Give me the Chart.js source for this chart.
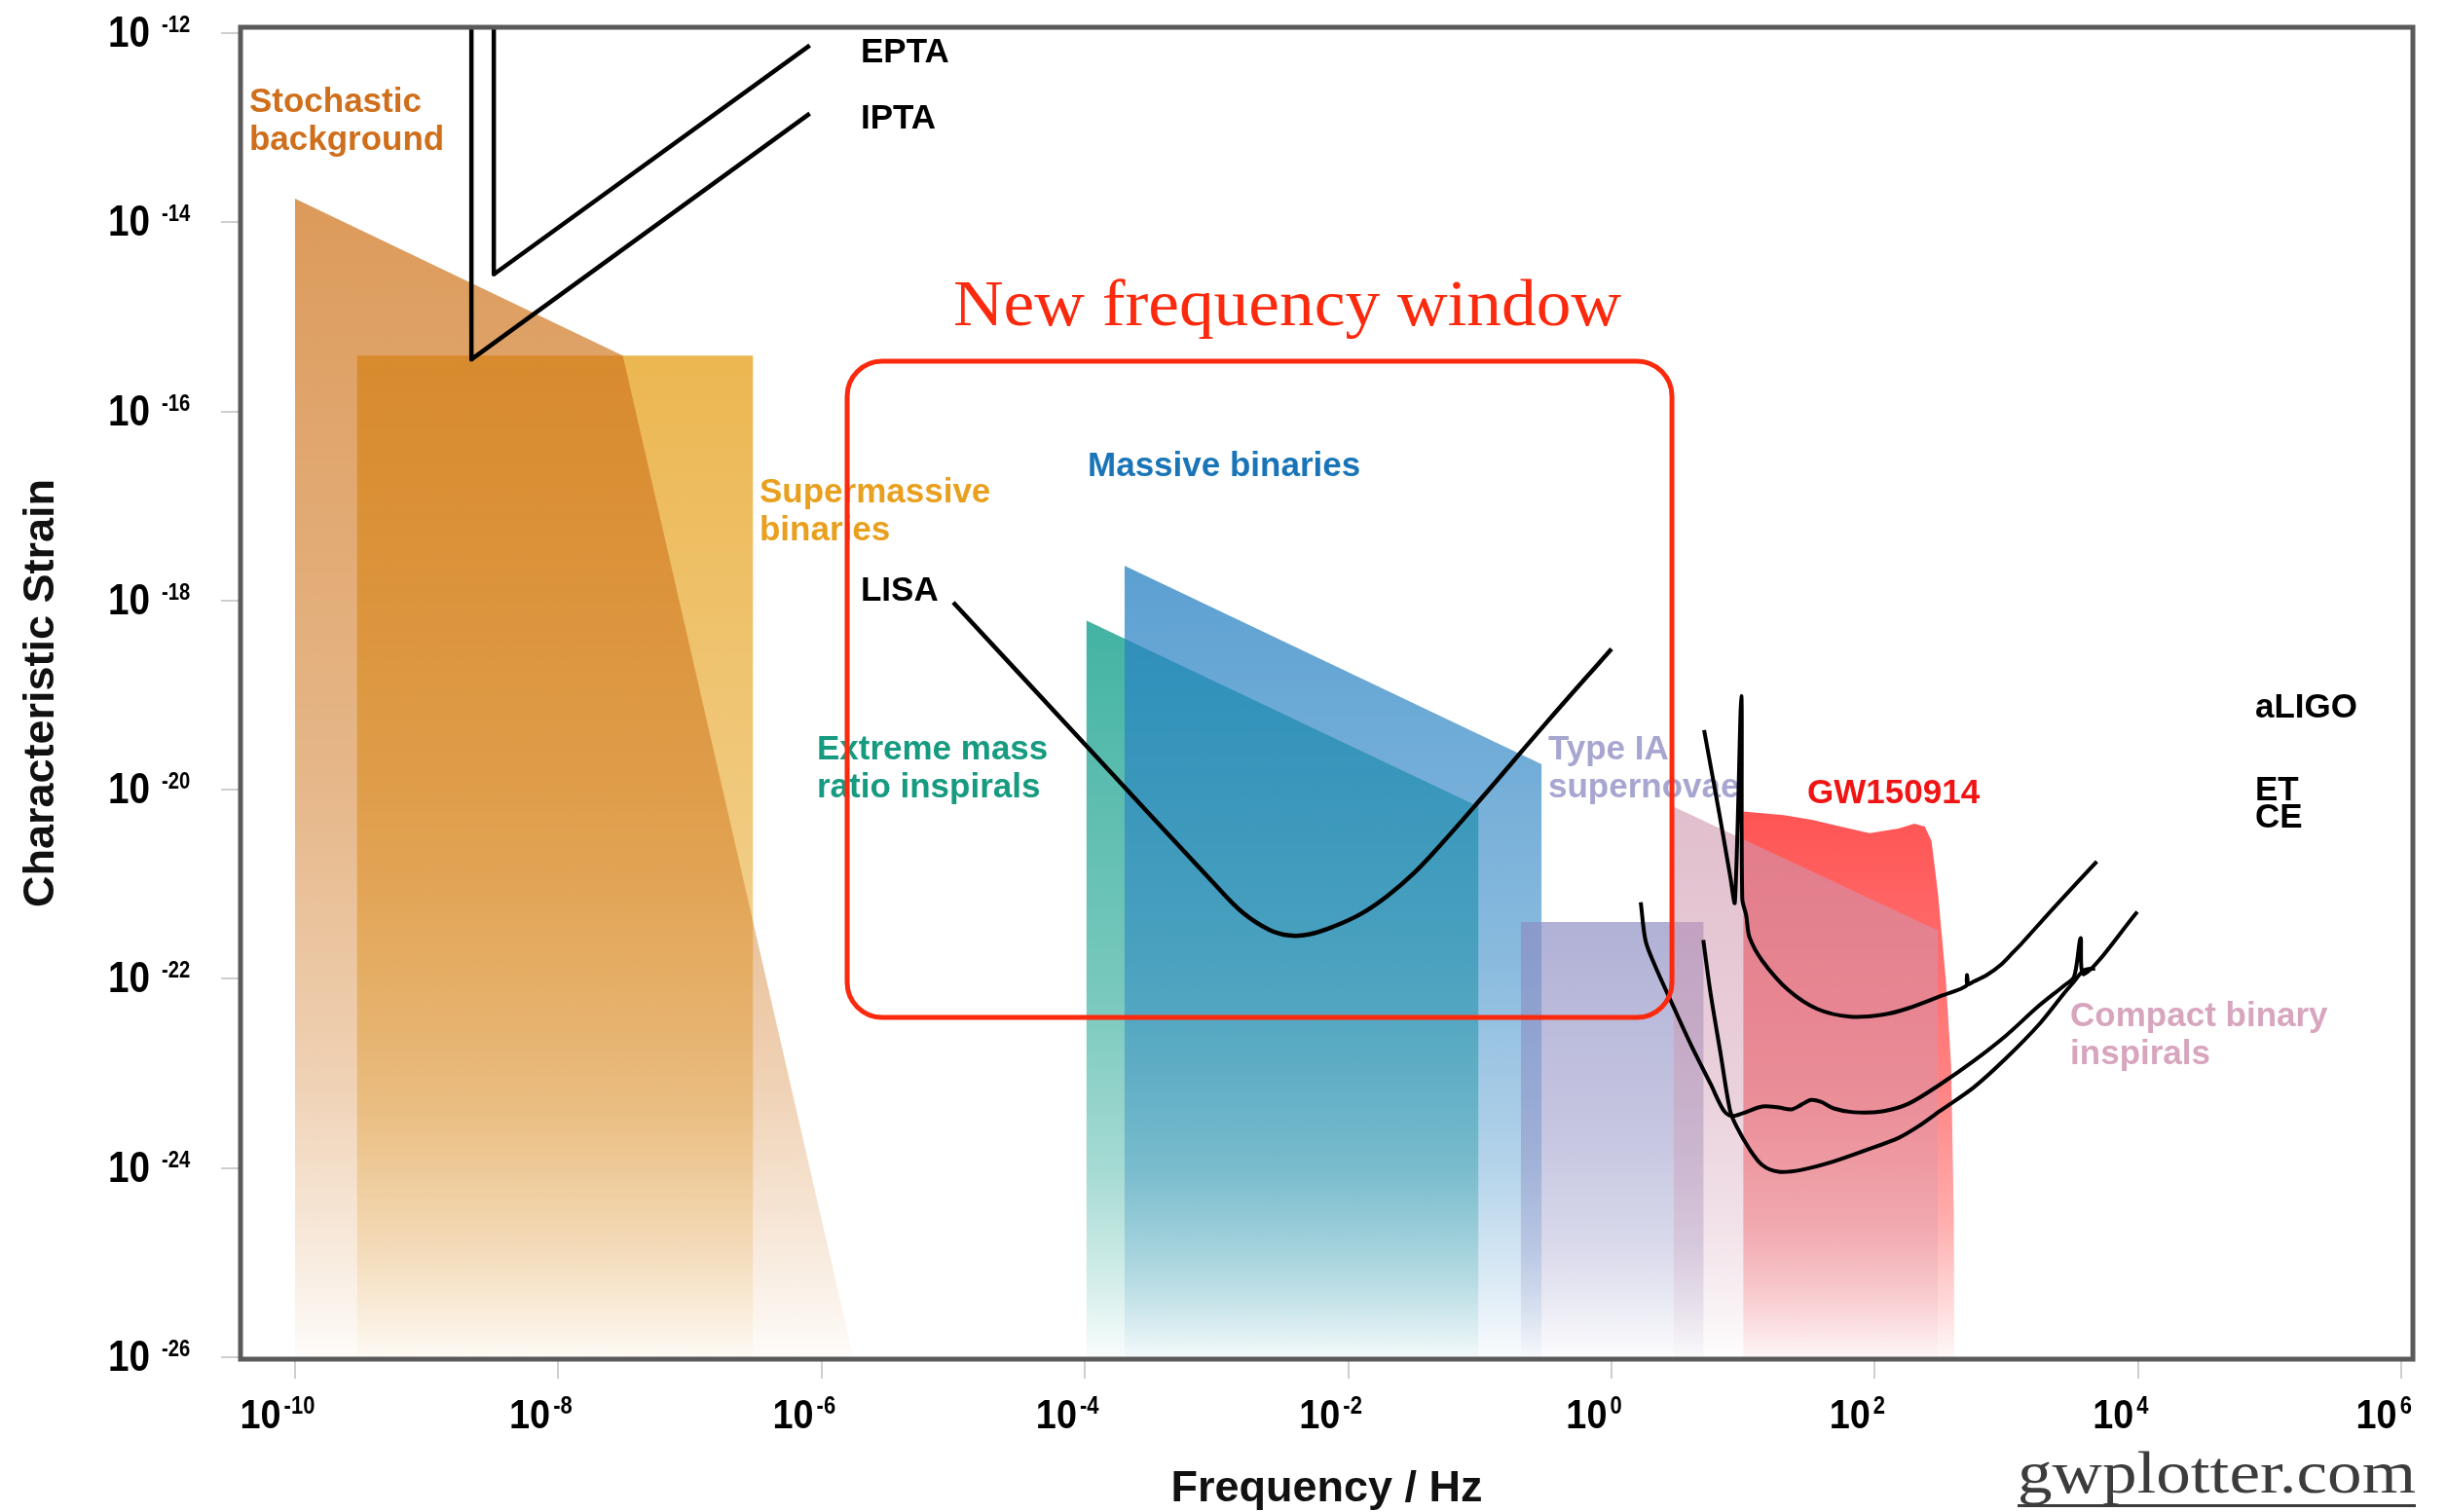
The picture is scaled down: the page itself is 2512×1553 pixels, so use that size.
<!DOCTYPE html>
<html>
<head>
<meta charset="utf-8">
<title>Gravitational wave spectrum</title>
<script src="https://cdn.jsdelivr.net/npm/chart.js@4.4.1/dist/chart.umd.min.js"></script>
<style>
    html, body { margin: 0; padding: 0; background: #fff; }
    #wrap { width: 2512px; height: 1553px; }
</style>
</head>
<body>
<div id="wrap"><canvas id="gwChart" width="2512" height="1553"></canvas></div>
<script>
// --- axis limits and ticks (log10 units) ---
const freqRange = [-10.414, 6.087];      // log10(f / Hz)
const strainRange = [-26.021, -11.938];  // log10(h_c)
const freqTickExps = [-10, -8, -6, -4, -2, 0, 2, 4, 6];
const strainTickExps = [-12, -14, -16, -18, -20, -22, -24, -26];

// --- source regions: upper outline, filled down to the axis ---
const stochasticF = [-10.0, -7.51, -5.76];
const stochasticH = [-13.75, -15.41, -26.0];
const supermassiveF = [-9.53, -6.52];
const supermassiveH = [-15.41, -15.41];
const emriF = [-3.99, -1.01];
const emriH = [-18.21, -20.18];
const massiveF = [-3.70, -0.53];
const massiveH = [-17.63, -19.73];
const typeIaF = [-0.69, 0.70];
const typeIaH = [-21.40, -21.40];
const compactF = [0.47, 2.48];
const compactH = [-20.18, -21.49];
const gw150914F = [1.00, 1.31, 1.53, 1.74, 1.96, 2.18, 2.30, 2.38, 2.43, 2.48, 2.54, 2.58, 2.60, 2.604];
const gw150914H = [-20.23, -20.27, -20.32, -20.39, -20.46, -20.41, -20.36, -20.39, -20.54, -21.10, -22.02, -22.93, -24.52, -26.0];

// --- detector sensitivity curves ---
const eptaF = [-8.49, -8.49, -6.09];
const eptaH = [-11.938, -14.55, -12.13];
const iptaF = [-8.66, -8.66, -6.09];
const iptaH = [-11.938, -15.45, -12.85];
const lisaF = [-5.0, -4.0, -3.0, -2.8, -2.6, -2.45, -2.3, -2.1, -1.9, -1.7, -1.5, -1.3, -1.0, -0.5, 0.0];
const lisaH = [-18.02, -19.52, -21.02, -21.30, -21.48, -21.54, -21.53, -21.44, -21.31, -21.12, -20.88, -20.585, -20.11, -19.30, -18.51];
const aligoF = [0.703, 0.821, 0.902, 0.937, 0.986, 0.993, 1.023, 1.048, 1.146, 1.344, 1.566, 1.812, 2.058, 2.256, 2.502, 2.698, 2.700, 2.702, 2.749, 2.85, 2.95, 3.05, 3.119, 3.365, 3.686];
const aligoH = [-19.37, -20.27, -20.92, -21.19, -19.01, -21.15, -21.33, -21.56, -21.81, -22.12, -22.32, -22.40, -22.38, -22.31, -22.18, -22.07, -21.96, -22.06, -22.03, -21.96, -21.86, -21.72, -21.62, -21.24, -20.76];
const etF = [0.222, 0.259, 0.333, 0.456, 0.604, 0.752, 0.851, 0.912, 0.998, 1.146, 1.270, 1.368, 1.442, 1.516, 1.590, 1.689, 1.837, 2.058, 2.256, 2.502, 2.749, 2.996, 3.242, 3.439, 3.513, 3.563, 3.590, 3.994];
const etH = [-21.19, -21.60, -21.87, -22.25, -22.70, -23.11, -23.39, -23.45, -23.42, -23.35, -23.36, -23.38, -23.33, -23.28, -23.30, -23.37, -23.41, -23.40, -23.32, -23.11, -22.87, -22.60, -22.29, -22.07, -21.98, -21.57, -21.95, -21.29];
const ceF = [0.697, 0.752, 0.826, 0.900, 0.949, 1.048, 1.146, 1.270, 1.442, 1.689, 1.936, 2.182, 2.330, 2.502, 2.749, 2.996, 3.242, 3.439, 3.513, 3.587, 3.673];
const ceH = [-21.59, -22.15, -22.77, -23.39, -23.56, -23.80, -23.97, -24.04, -24.02, -23.93, -23.81, -23.68, -23.56, -23.39, -23.15, -22.84, -22.49, -22.15, -22.03, -21.91, -21.89];

// highlighted band: [low, high] in log10 f and log10 h
const windowF = [-5.806, 0.459];
const windowH = [-22.408, -15.469];

// text labels, anchored at (log10 f, log10 h) of the first line's left baseline
const regionLabels = [
    { lines: ['Stochastic', 'background'], f: -10.348, h: -12.834, color: '#cf6f1c' },
    { lines: ['EPTA'], f: -5.703, h: -12.309, color: '#000' },
    { lines: ['IPTA'], f: -5.703, h: -13.009, color: '#000' },
    { lines: ['Supermassive', 'binaries'], f: -6.472, h: -16.962, color: '#e8a01e' },
    { lines: ['LISA'], f: -5.703, h: -18.002, color: '#000' },
    { lines: ['Massive binaries'], f: -3.979, h: -16.684, color: '#1a75b8' },
    { lines: ['Extreme mass', 'ratio inspirals'], f: -6.036, h: -19.680, color: '#169a80' },
    { lines: ['Type IA', 'supernovae'], f: -0.481, h: -19.680, color: '#a6a6d0' },
    { lines: ['GW150914'], f: 1.487, h: -20.143, color: '#f01414' },
    { lines: ['aLIGO'], f: 4.889, h: -19.237, color: '#000' },
    { lines: ['ET'], f: 4.889, h: -20.112, color: '#000' },
    { lines: ['CE'], f: 4.889, h: -20.400, color: '#000' },
    { lines: ['Compact binary', 'inspirals'], f: 3.484, h: -22.500, color: '#d8a5bf' }
];
const windowCaption = { text: 'New frequency window', f: -2.463, h: -15.088 };

const SANS = '"Liberation Sans", Arial, Helvetica, sans-serif';
const SERIF = '"Liberation Serif", "Times New Roman", serif';
Chart.defaults.font.family = SANS;

const toPoints = (fs, hs) => fs.map((f, i) => ({ x: Math.pow(10, f), y: Math.pow(10, hs[i]) }));
const px = (chart, lf) => chart.scales.x.getPixelForValue(Math.pow(10, lf));
const py = (chart, lh) => chart.scales.y.getPixelForValue(Math.pow(10, lh));

// vertical fade from the top of a region down to the x axis
function fade(chart, rgb, alpha, topExp) {
    const area = chart.chartArea;
    if (!area) return `rgba(${rgb},${alpha})`;
    const top = py(chart, topExp);
    const g = chart.ctx.createLinearGradient(0, top, 0, area.bottom);
    const stops = [[0, 1], [0.25, 0.86], [0.5, 0.72], [0.75, 0.47], [0.9, 0.22], [1, 0.03]];
    stops.forEach(([t, k]) => g.addColorStop(t, `rgba(${rgb},${(alpha * k).toFixed(3)})`));
    return g;
}

function regionSet(label, fs, hs, rgb, alpha, order) {
    const top = Math.max(...hs);
    return {
        label: label,
        data: toPoints(fs, hs),
        order: order,
        borderWidth: 0,
        pointRadius: 0,
        tension: 0,
        fill: 'start',
        backgroundColor: (ctx) => fade(ctx.chart, rgb, alpha, top)
    };
}

function curveSet(label, fs, hs, width, tension) {
    return {
        label: label,
        data: toPoints(fs, hs),
        order: 0,
        borderColor: '#000',
        borderWidth: width,
        borderJoinStyle: 'round',
        pointRadius: 0,
        fill: false,
        tension: tension
    };
}

// "10" with a raised exponent, squeezed a little like a condensed face
function drawPower(ctx, exp, x, baseline, baseSize, expSize, gap, expRise, mode) {
    const squeeze = 0.88;
    ctx.font = `bold ${baseSize}px ${SANS}`;
    const wb = ctx.measureText('10').width * squeeze;
    ctx.font = `bold ${expSize}px ${SANS}`;
    const we = ctx.measureText(exp).width * squeeze;
    let start;
    if (mode === 'right') start = x - wb;
    else start = x - (wb + gap + we) / 2;
    ctx.save();
    ctx.translate(start, baseline);
    ctx.scale(squeeze, 1);
    ctx.font = `bold ${baseSize}px ${SANS}`;
    ctx.fillText('10', 0, 0);
    ctx.font = `bold ${expSize}px ${SANS}`;
    ctx.fillText(exp, (wb + gap) / squeeze, -expRise);
    ctx.restore();
}

function roundedBox(ctx, x0, y0, x1, y1, r) {
    ctx.beginPath();
    ctx.moveTo(x0 + r, y0);
    ctx.arcTo(x1, y0, x1, y1, r);
    ctx.arcTo(x1, y1, x0, y1, r);
    ctx.arcTo(x0, y1, x0, y0, r);
    ctx.arcTo(x0, y0, x1, y0, r);
    ctx.closePath();
}

const overlayPlugin = {
    id: 'gwOverlay',
    beforeDatasetsDraw(chart) {
        const ctx = chart.ctx;
        ctx.save();
        ctx.textAlign = 'left';
        ctx.textBaseline = 'alphabetic';
        ctx.font = `bold 35px ${SANS}`;
        regionLabels.forEach(l => {
            const x = px(chart, l.f);
            const y = py(chart, l.h);
            ctx.fillStyle = l.color;
            l.lines.forEach((t, i) => ctx.fillText(t, x, y + i * 39));
        });
        ctx.restore();
    },
    afterDatasetsDraw(chart) {
        const ctx = chart.ctx;
        const x0 = px(chart, windowF[0]);
        const x1 = px(chart, windowF[1]);
        const y0 = py(chart, windowH[1]);
        const y1 = py(chart, windowH[0]);
        ctx.save();
        ctx.strokeStyle = '#fb2a0e';
        ctx.lineWidth = 5;
        roundedBox(ctx, x0, y0, x1, y1, 36);
        ctx.stroke();

        // caption above the box
        ctx.font = `68px ${SERIF}`;
        ctx.fillStyle = '#fb2a0e';
        ctx.textBaseline = 'alphabetic';
        const w = ctx.measureText(windowCaption.text).width;
        const sx = 686 / w;
        ctx.translate(px(chart, windowCaption.f), py(chart, windowCaption.h));
        ctx.scale(sx, 1);
        ctx.textAlign = 'center';
        ctx.fillText(windowCaption.text, 0, 0);
        ctx.restore();
    },
    afterDraw(chart) {
        const ctx = chart.ctx;
        const a = chart.chartArea;
        ctx.save();
        // plot frame
        ctx.strokeStyle = '#5a5a5a';
        ctx.lineWidth = 5;
        ctx.strokeRect(a.left, a.top, a.right - a.left, a.bottom - a.top);

        // tick labels with superscript exponents
        ctx.fillStyle = '#000';
        ctx.textAlign = 'left';
        ctx.textBaseline = 'alphabetic';
        strainTickExps.forEach(e => {
            const y = py(chart, e);
            drawPower(ctx, String(e), a.left - 93, y + 14, 44, 23, 12, 15, 'right');
        });
        freqTickExps.forEach(e => {
            const x = px(chart, e);
            drawPower(ctx, String(e), x - 18, a.bottom + 71, 43, 25, 3, 15, 'center');
        });

        // site credit, underlined
        ctx.font = `61px ${SERIF}`;
        ctx.fillStyle = '#3c3c3c';
        const credit = 'gwplotter.com';
        const cw = ctx.measureText(credit).width;
        const targetW = 409;
        const right = a.right + 3;
        ctx.save();
        ctx.translate(right - targetW, 1533);
        ctx.scale(targetW / cw, 1);
        ctx.fillText(credit, 0, 0);
        ctx.restore();
        ctx.fillRect(right - targetW, 1545, targetW, 3);
        ctx.restore();
    }
};

const datasets = [
    curveSet('EPTA', eptaF, eptaH, 4.5, 0),
    curveSet('IPTA', iptaF, iptaH, 4.5, 0),
    curveSet('LISA', lisaF, lisaH, 4.5, 0.4),
    curveSet('aLIGO', aligoF, aligoH, 4, 0.3),
    curveSet('ET', etF, etH, 4, 0.3),
    curveSet('CE', ceF, ceH, 4, 0.3),
    regionSet('Compact binary inspirals', compactF, compactH, '207,151,175', 0.62, 1),
    regionSet('GW150914', gw150914F, gw150914H, '255,60,60', 0.88, 2),
    regionSet('Type IA supernovae', typeIaF, typeIaH, '140,140,195', 0.68, 3),
    regionSet('Massive binaries', massiveF, massiveH, '40,130,195', 0.76, 4),
    regionSet('Extreme mass ratio inspirals', emriF, emriH, '20,160,140', 0.8, 5),
    regionSet('Stochastic background', stochasticF, stochasticH, '207,117,29', 0.73, 6),
    regionSet('Supermassive binaries', supermassiveF, supermassiveH, '232,170,50', 0.85, 7)
];

new Chart(document.getElementById('gwChart'), {
    type: 'line',
    data: { datasets: datasets },
    options: {
        responsive: false,
        animation: false,
        devicePixelRatio: 1,
        events: [],
        layout: { padding: { top: 28, right: 34, bottom: 0, left: 0 } },
        plugins: { legend: { display: false }, tooltip: { enabled: false } },
        scales: {
            x: {
                type: 'logarithmic',
                position: 'bottom',
                bounds: 'data',
                min: Math.pow(10, freqRange[0]),
                max: Math.pow(10, freqRange[1]),
                afterBuildTicks: (s) => { s.ticks = freqTickExps.map(e => ({ value: Math.pow(10, e) })); },
                afterFit: (s) => { s.height = 157; },
                ticks: { display: false, autoSkip: false },
                grid: { display: true, drawOnChartArea: false, drawTicks: true, tickLength: 20, color: '#cfcfcf', lineWidth: 2 },
                border: { display: false },
                title: {
                    display: true,
                    text: 'Frequency / Hz',
                    color: '#111',
                    font: { size: 45, weight: 'bold', lineHeight: 1.0 },
                    padding: { top: 0, bottom: 1 }
                }
            },
            y: {
                type: 'logarithmic',
                position: 'left',
                bounds: 'data',
                min: Math.pow(10, strainRange[0]),
                max: Math.pow(10, strainRange[1]),
                afterBuildTicks: (s) => { s.ticks = strainTickExps.map(e => ({ value: Math.pow(10, e) })); },
                afterFit: (s) => { s.width = 247; },
                ticks: { display: false, autoSkip: false },
                grid: { display: true, drawOnChartArea: false, drawTicks: true, tickLength: 20, color: '#cfcfcf', lineWidth: 2 },
                border: { display: false },
                title: {
                    display: true,
                    text: 'Characteristic Strain',
                    color: '#111',
                    font: { size: 45, weight: 'bold' },
                    padding: { top: 16, bottom: 0 }
                }
            }
        }
    },
    plugins: [overlayPlugin]
});
</script>
</body>
</html>
